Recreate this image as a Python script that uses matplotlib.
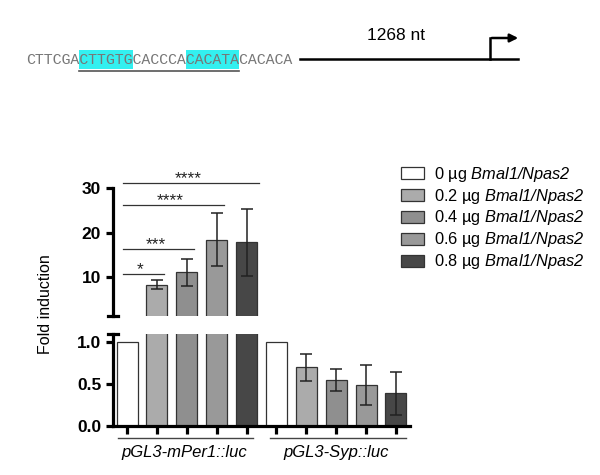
import numpy as np
import matplotlib
matplotlib.use("Agg")
import matplotlib.pyplot as plt
from matplotlib.patches import Patch, Rectangle
import matplotlib.transforms as mtrans

plt.rcParams['font.family'] = ['Liberation Sans', 'DejaVu Sans']
plt.rcParams['mathtext.fontset'] = 'custom'
# the only mathtext in the figure is the italic gene name, digits included
plt.rcParams['mathtext.rm'] = 'Liberation Sans:italic'
plt.rcParams['mathtext.it'] = 'Liberation Sans:italic'

# ---- data ----
doses = ["0", "0.2", "0.4", "0.6", "0.8"]
groups = ["pGL3-mPer1::luc", "pGL3-Syp::luc"]
per1_mean = [1.0, 8.3, 11.1, 18.4, 17.8]
per1_err = [0.0, 1.0, 3.0, 6.0, 7.5]
syp_mean = [1.0, 0.70, 0.55, 0.49, 0.39]
syp_err = [0.0, 0.16, 0.13, 0.24, 0.26]
bar_colors = ["#ffffff", "#ababab", "#8f8f8f", "#999999", "#474747"]
# significance: (from bar, to bar, height, label)
sig = [(0, 1, 10.7, "*"), (0, 2, 16.3, "***"), (0, 3, 26.1, "****"), (0, 4, 31.1, "****")]
seq = "CTTCGACTTGTGCACCCACACATACACACA"
boxes = [(6, 12), (18, 24)]
promoter_len = "1268 nt"

W, H = 600, 475
fig = plt.figure(figsize=(6, 4.75), dpi=100)

# ---- top schematic (pixel overlay) ----
ov = fig.add_axes([0, 0, 1, 1])
ov.set_xlim(0, W)
ov.set_ylim(H, 0)
ov.axis("off")
t = ov.text(26, 60, seq, family="Liberation Mono", fontsize=10.7, color="#777777",
            ha="left", va="center", zorder=3)
fig.canvas.draw()
cw = t.get_window_extent().width / len(seq)
for a, b in boxes:
    ov.add_patch(Rectangle((26 + a * cw, 50), (b - a) * cw, 19, color="#33f0f0", lw=0, zorder=2))
ov.plot([26 + boxes[0][0] * cw, 26 + boxes[1][1] * cw], [71, 71], color="#555555", lw=1.2)
ov.plot([300, 518], [59, 59], color="black", lw=1.8)
ov.plot([490, 490], [59, 38], color="black", lw=1.8)
ov.annotate("", xy=(521, 38), xytext=(489, 38),
            arrowprops=dict(arrowstyle="-|>", color="black", lw=1.8, mutation_scale=12))
ov.text(396, 36, promoter_len, fontsize=12.5, ha="center", va="center")

# ---- bar chart (broken axis) ----
x = np.arange(10)
means = per1_mean + syp_mean
errs = per1_err + syp_err
cols = bar_colors + bar_colors
xl = (-0.47, 9.47)

ax_top = fig.add_axes([113 / W, 1 - 316 / H, 297 / W, 128 / H])
ax_bot = fig.add_axes([113 / W, 1 - 426 / H, 297 / W, 92 / H])

for ax in (ax_top, ax_bot):
    ax.bar(x, means, width=0.7, color=cols, edgecolor="#333333", linewidth=0.9)
    ax.errorbar(x[1:5], means[1:5], yerr=errs[1:5], fmt="none", ecolor="#222222",
                elinewidth=1.1, capsize=4.5, capthick=1.1)
    ax.errorbar(x[6:], means[6:], yerr=errs[6:], fmt="none", ecolor="#222222",
                elinewidth=1.1, capsize=4.5, capthick=1.1)
    ax.set_xlim(*xl)
    for s in ("top", "right"):
        ax.spines[s].set_visible(False)
    ax.spines["left"].set_linewidth(2.3)
    ax.tick_params(axis="y", width=2.3, length=5, labelsize=12.5)

ax_top.set_ylim(1.3, 30)
ax_top.set_yticks([10, 20, 30])
ax_top.set_yticklabels(["10", "20", "30"], fontweight="bold")
ax_top.spines["bottom"].set_visible(False)
ax_top.set_xticks([])
ax_top.plot([-0.018, 0.018], [0, 0], transform=ax_top.transAxes, color="black",
            lw=2.3, clip_on=False)

ax_bot.set_ylim(0, 1.1)
ax_bot.set_yticks([0, 0.5, 1.0])
ax_bot.set_yticklabels(["0.0", "0.5", "1.0"], fontweight="bold")
ax_bot.spines["bottom"].set_linewidth(2.3)
ax_bot.set_xticks(x)
ax_bot.set_xticklabels([])
ax_bot.tick_params(axis="x", width=2.3, length=6)
ax_bot.plot([-0.018, 0.018], [1, 1], transform=ax_bot.transAxes, color="black",
            lw=2.3, clip_on=False)

# significance lines
for a, b, h, lab in sig:
    x0, x1 = a - 0.13, b + 0.23
    if b == 4:
        x1 = b + 0.4
    ax_top.plot([x0, x1], [h, h], color="#333333", lw=0.9, clip_on=False)
    xm = (x0 + x1) / 2 - 0.1 if b > 1 else 0.43
    ax_top.text(xm, h - 0.6, lab, ha="center", va="bottom", fontsize=12.5,
                color="#222222", clip_on=False)

# group labels
tr = mtrans.blended_transform_factory(ax_bot.transData, ax_bot.transAxes)
spans = [(-0.3, 4.2), (4.8, 9.33)]
for g, (a, b) in zip(groups, spans):
    ax_bot.plot([a, b], [-0.13, -0.13], transform=tr, color="#444444", lw=1.0, clip_on=False)
    ax_bot.text((a + b) / 2 - 0.05, -0.29, g, transform=tr, ha="center", va="center",
                fontsize=12, fontstyle="italic")

fig.text(46 / W, 1 - 304 / H, "Fold induction", rotation=90, ha="center", va="center",
         fontsize=11.5)

# legend
handles = [Patch(facecolor=c, edgecolor="#333333", linewidth=0.9) for c in bar_colors]
labels = [d + r" µg $\mathrm{Bmal1/Npas2}$" for d in doses]
fig.legend(handles, labels, loc="upper left", bbox_to_anchor=(394 / W, 1 - 158 / H),
           frameon=False, fontsize=11.8, handlelength=1.45, handleheight=0.75,
           labelspacing=0.18, handletextpad=0.6, borderaxespad=0)

fig.savefig("out.png", dpi=100)
